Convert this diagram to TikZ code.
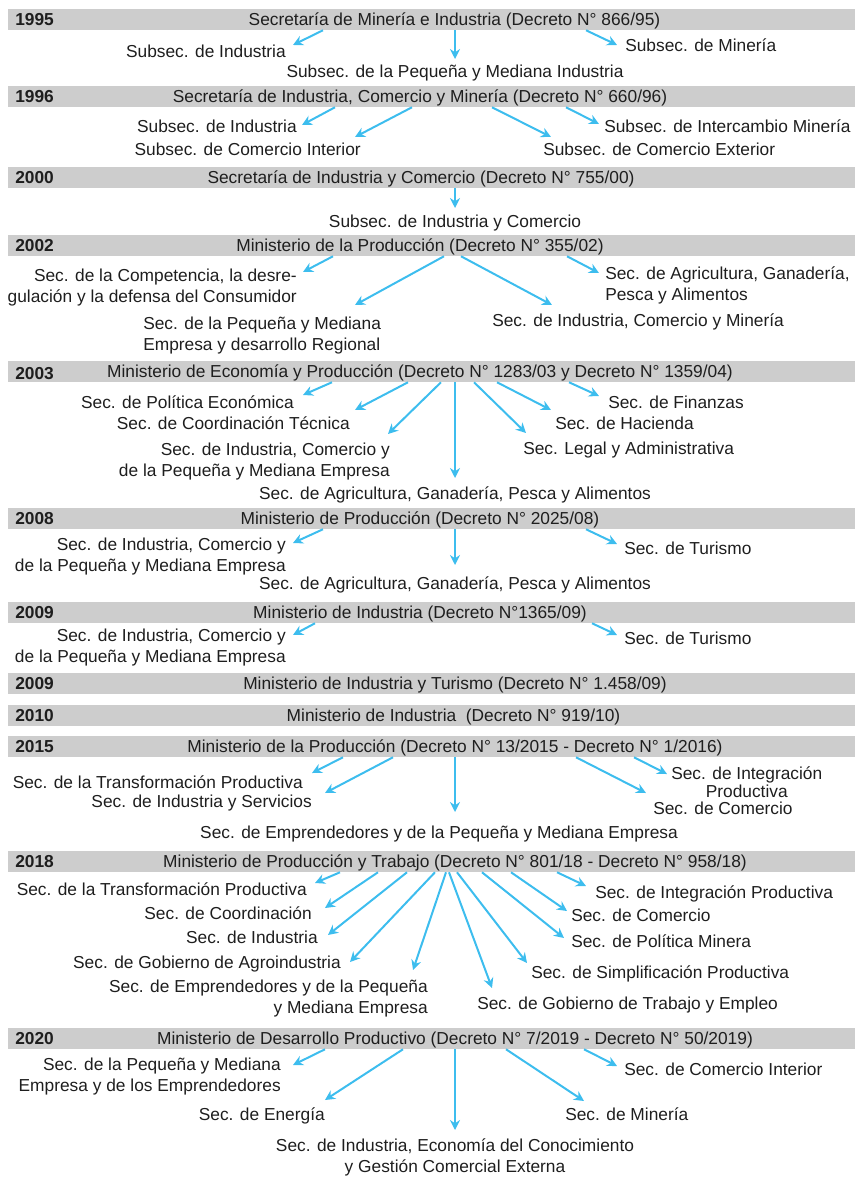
\documentclass[tikz,border=0pt]{standalone}
\usepackage{fontspec}
\setmainfont{Liberation Sans}
\usetikzlibrary{arrows.meta}

\definecolor{bargray}{HTML}{CDCDCD}
\definecolor{arrowblue}{HTML}{3DBDEE}
\definecolor{textdark}{HTML}{1E1E1E}

\tikzset{
  bar/.style={fill=bargray, minimum width=635.25pt, minimum height=15.75pt, inner sep=0pt},
  year/.style={anchor=base west, font=\fontsize{13}{15.5}\selectfont\bfseries, inner sep=0pt},
  ttl/.style={anchor=base, inner sep=0pt},
  lbl/.style={inner sep=0pt},
  arr/.style={draw=arrowblue, line width=1.5pt, -{Stealth[length=7.5pt,width=7.5pt,inset=2.5pt]}}
}

\begin{document}
\begin{tikzpicture}[x=0.75pt, y=-0.75pt, font=\fontsize{13}{15.5}\selectfont, text=textdark]
        \useasboundingbox (0,0) rectangle (859,1177);

        % 1995
        \node[bar] (b95) at (431.5,19.5) {};
        \node[year] (y95) at (15,25.5) {1995};
        \node[ttl] (t95) at (454.5,25.5) {Secretaría de Minería e Industria (Decreto N° 866/95)};
        \node[lbl, anchor=base east] (l95a) at (286,58) {Subsec. de Industria};
        \node[lbl, anchor=base] (l95b) at (455,78) {Subsec. de la Pequeña y Mediana Industria};
        \node[lbl, anchor=base west] (l95c) at (625,52) {Subsec. de Minería};
        \draw[arr] (b95.south -| 323,0) -- ([shift={(7,-13)}]l95a.base east);
        \draw[arr] (b95.south -| 455,0) -- ([shift={(0,-19)}]l95b.base);
        \draw[arr] (b95.south -| 586,0) -- ([shift={(-8,-7)}]l95c.base west);

        % 1996
        \node[bar] (b96) at (431.5,96.5) {};
        \node[year] (y96) at (15,102.5) {1996};
        \node[ttl] (t96) at (420,102.5) {Secretaría de Industria, Comercio y Minería (Decreto N° 660/96)};
        \node[lbl, anchor=base east] (l96a) at (297,133) {Subsec. de Industria};
        \node[lbl, anchor=base east] (l96b) at (361,156) {Subsec. de Comercio Interior};
        \node[lbl, anchor=base west] (l96c) at (543,156) {Subsec. de Comercio Exterior};
        \node[lbl, anchor=base west] (l96d) at (604,133) {Subsec. de Intercambio Minería};
        \draw[arr] (b96.south -| 335,0) -- ([shift={(5,-8)}]l96a.base east);
        \draw[arr] (b96.south -| 412,0) -- ([shift={(-6,-19)}]l96b.base east);
        \draw[arr] (b96.south -| 492,0) -- ([shift={(8,-19)}]l96c.base west);
        \draw[arr] (b96.south -| 566,0) -- ([shift={(-5,-9)}]l96d.base west);

        % 2000
        \node[bar] (b00) at (431.5,177.5) {};
        \node[year] (y00) at (15,183.5) {2000};
        \node[ttl] (t00) at (421,183.5) {Secretaría de Industria y Comercio (Decreto N° 755/00)};
        \node[lbl, anchor=base] (l00) at (455,227) {Subsec. de Industria y Comercio};
        \draw[arr] (b00.south -| 455,0) -- ([shift={(0,-19)}]l00.base);

        % 2002
        \node[bar] (b02) at (431.5,245.5) {};
        \node[year] (y02) at (15,251.5) {2002};
        \node[ttl] (t02) at (420,251.5) {Ministerio de la Producción (Decreto N° 355/02)};
        \node[lbl, anchor=base east, align=right] (l02a) at (297,302) {Sec. de la Competencia, la desre-\\gulación y la defensa del Consumidor};
        \node[lbl, anchor=base west, align=left] (l02b) at (143,350) {Sec. de la Pequeña y Mediana\\Empresa y desarrollo Regional};
        \node[lbl, anchor=base west] (l02c) at (492,326) {Sec. de Industria, Comercio y Minería};
        \node[lbl, anchor=base west, align=left] (l02d) at (605,300) {Sec. de Agricultura, Ganadería,\\Pesca y Alimentos};
        \draw[arr] (b02.south -| 333,0) -- ([shift={(6,-30)}]l02a.base east);
        \draw[arr] (b02.south -| 444,0) -- ([shift={(212,-45)}]l02b.base west);
        \draw[arr] (b02.south -| 461,0) -- ([shift={(60,-21)}]l02c.base west);
        \draw[arr] (b02.south -| 567,0) -- ([shift={(-6,-27)}]l02d.base west);

        % 2003
        \node[bar] (b03) at (431.5,371.5) {};
        \node[year] (y03) at (15,379) {2003};
        \node[ttl] (t03) at (420,377.5) {Ministerio de Economía y Producción (Decreto N° 1283/03 y Decreto N° 1359/04)};
        \node[lbl, anchor=base east] (l03a) at (294,408) {Sec. de Política Económica};
        \node[lbl, anchor=base east] (l03b) at (350,429) {Sec. de Coordinación Técnica};
        \node[lbl, anchor=base east, align=right] (l03c) at (390,476) {Sec. de Industria, Comercio y\\de la Pequeña y Mediana Empresa};
        \node[lbl, anchor=base] (l03d) at (455,499) {Sec. de Agricultura, Ganadería, Pesca y Alimentos};
        \node[lbl, anchor=base west] (l03e) at (523,454) {Sec. Legal y Administrativa};
        \node[lbl, anchor=base west] (l03f) at (555,429) {Sec. de Hacienda};
        \node[lbl, anchor=base west] (l03g) at (608,408) {Sec. de Finanzas};
        \draw[arr] (b03.south -| 332,0) -- ([shift={(9,-13)}]l03a.base east);
        \draw[arr] (b03.south -| 408,0) -- ([shift={(5,-19)}]l03b.base east);
        \draw[arr] (b03.south -| 441,0) -- ([shift={(-2,-42)}]l03c.base east);
        \draw[arr] (b03.south -| 455,0) -- ([shift={(0,-21)}]l03d.base);
        \draw[arr] (b03.south -| 474,0) -- ([shift={(3,-21)}]l03e.base west);
        \draw[arr] (b03.south -| 497,0) -- ([shift={(-4,-19)}]l03f.base west);
        \draw[arr] (b03.south -| 569,0) -- ([shift={(-9,-12)}]l03g.base west);

        % 2008
        \node[bar] (b08) at (431.5,518.5) {};
        \node[year] (y08) at (15,524.5) {2008};
        \node[ttl] (t08) at (420,524.5) {Ministerio de Producción (Decreto N° 2025/08)};
        \node[lbl, anchor=base east, align=right] (l08a) at (286,571) {Sec. de Industria, Comercio y\\de la Pequeña y Mediana Empresa};
        \node[lbl, anchor=base] (l08b) at (455,589) {Sec. de Agricultura, Ganadería, Pesca y Alimentos};
        \node[lbl, anchor=base west] (l08c) at (624,554) {Sec. de Turismo};
        \draw[arr] (b08.south -| 323,0) -- ([shift={(7,-28)}]l08a.base east);
        \draw[arr] (b08.south -| 455,0) -- ([shift={(0,-24)}]l08b.base);
        \draw[arr] (b08.south -| 586,0) -- ([shift={(-7,-10)}]l08c.base west);

        % 2009
        \node[bar] (b09) at (431.5,612.5) {};
        \node[year] (y09) at (15,618.5) {2009};
        \node[ttl] (t09) at (420,618.5) {Ministerio de Industria (Decreto N°1365/09)};
        \node[lbl, anchor=base east, align=right] (l09a) at (286,662) {Sec. de Industria, Comercio y\\de la Pequeña y Mediana Empresa};
        \node[lbl, anchor=base west] (l09b) at (624,644) {Sec. de Turismo};
        \draw[arr] (b09.south -| 315,0) -- ([shift={(7,-27)}]l09a.base east);
        \draw[arr] (b09.south -| 592,0) -- ([shift={(-7,-9)}]l09b.base west);

        % 2009 (bis) and 2010
        \node[bar] (b09b) at (431.5,683.5) {};
        \node[year] (y09b) at (15,689.5) {2009};
        \node[ttl] (t09b) at (455,689.5) {Ministerio de Industria y Turismo (Decreto N° 1.458/09)};
        \node[bar] (b10) at (431.5,715.5) {};
        \node[year] (y10) at (15,721.5) {2010};
        \node[ttl] (t10) at (453.5,721.5) {Ministerio de Industria\ \ (Decreto N° 919/10)};

        % 2015
        \node[bar] (b15) at (431.5,746.5) {};
        \node[year] (y15) at (15,752.5) {2015};
        \node[ttl] (t15) at (455,752.5) {Ministerio de la Producción (Decreto N° 13/2015 - Decreto N° 1/2016)};
        \node[lbl, anchor=base east] (l15a) at (303,788) {Sec. de la Transformación Productiva};
        \node[lbl, anchor=base east] (l15b) at (312,807) {Sec. de Industria y Servicios};
        \node[lbl, anchor=base] (l15c) at (439,838) {Sec. de Emprendedores y de la Pequeña y Mediana Empresa};
        \node[lbl, anchor=base west] (l15d) at (653,814) {Sec. de Comercio};
        \node[lbl, anchor=base west, align=center, font=\fontsize{13}{12}\selectfont] (l15e) at (671,797) {Sec. de Integración\\Productiva};
        \draw[arr] (b15.south -| 343,0) -- ([shift={(9,-15)}]l15a.base east);
        \draw[arr] (b15.south -| 393,0) -- ([shift={(13,-14)}]l15b.base east);
        \draw[arr] (b15.south -| 455,0) -- ([shift={(16,-26)}]l15c.base);
        \draw[arr] (b15.south -| 576,0) -- ([shift={(-7,-21)}]l15d.base west);
        \draw[arr] (b15.south -| 634,0) -- ([shift={(-4,-23)}]l15e.base west);

        % 2018
        \node[bar] (b18) at (431.5,861.5) {};
        \node[year] (y18) at (15,867.5) {2018};
        \node[ttl] (t18) at (455,867.5) {Ministerio de Producción y Trabajo (Decreto N° 801/18 - Decreto N° 958/18)};
        \node[lbl, anchor=base east] (l18a) at (307,895) {Sec. de la Transformación Productiva};
        \node[lbl, anchor=base east] (l18b) at (312,919) {Sec. de Coordinación};
        \node[lbl, anchor=base east] (l18c) at (318,943) {Sec. de Industria};
        \node[lbl, anchor=base east] (l18d) at (341,968) {Sec. de Gobierno de Agroindustria};
        \node[lbl, anchor=base east, align=right] (l18e) at (428,1013) {Sec. de Emprendedores y de la Pequeña\\y Mediana Empresa};
        \node[lbl, anchor=base west] (l18f) at (477,1009) {Sec. de Gobierno de Trabajo y Empleo};
        \node[lbl, anchor=base west] (l18g) at (531,978) {Sec. de Simplificación Productiva};
        \node[lbl, anchor=base west] (l18h) at (571,947) {Sec. de Política Minera};
        \node[lbl, anchor=base west] (l18i) at (571,921) {Sec. de Comercio};
        \node[lbl, anchor=base west] (l18j) at (595,898) {Sec. de Integración Productiva};
        \draw[arr] (b18.south -| 340,0) -- ([shift={(8,-12)}]l18a.base east);
        \draw[arr] (b18.south -| 378,0) -- ([shift={(13,-11)}]l18b.base east);
        \draw[arr] (b18.south -| 407,0) -- ([shift={(10,-8)}]l18c.base east);
        \draw[arr] (b18.south -| 435,0) -- ([shift={(9,-6)}]l18d.base east);
        \draw[arr] (b18.south -| 446,0) -- ([shift={(-15,-43)}]l18e.base east);
        \draw[arr] (b18.south -| 449,0) -- ([shift={(15,-21)}]l18f.base west);
        \draw[arr] (b18.south -| 457,0) -- ([shift={(-4,-15)}]l18g.base west);
        \draw[arr] (b18.south -| 482,0) -- ([shift={(-7,-9)}]l18h.base west);
        \draw[arr] (b18.south -| 511,0) -- ([shift={(-4,-10)}]l18i.base west);
        \draw[arr] (b18.south -| 557,0) -- ([shift={(-9,-12)}]l18j.base west);

        % 2020
        \node[bar] (b20) at (431.5,1038.5) {};
        \node[year] (y20) at (15,1044.5) {2020};
        \node[ttl] (t20) at (455,1044.5) {Ministerio de Desarrollo Productivo (Decreto N° 7/2019 - Decreto N° 50/2019)};
        \node[lbl, anchor=base east, align=right] (l20a) at (281,1091) {Sec. de la Pequeña y Mediana\\Empresa y de los Emprendedores};
        \node[lbl, anchor=base east] (l20b) at (325,1120) {Sec. de Energía};
        \node[lbl, anchor=base, align=center] (l20c) at (455,1172) {Sec. de Industria, Economía del Conocimiento\\y Gestión Comercial Externa};
        \node[lbl, anchor=base west] (l20d) at (565,1120) {Sec. de Minería};
        \node[lbl, anchor=base west] (l20e) at (624,1075) {Sec. de Comercio Interior};
        \draw[arr] (b20.south -| 325,0) -- ([shift={(12,-26)}]l20a.base east);
        \draw[arr] (b20.south -| 403,0) -- ([shift={(0,-20)}]l20b.base east);
        \draw[arr] (b20.south -| 455,0) -- ([shift={(0,-42)}]l20c.base);
        \draw[arr] (b20.south -| 506,0) -- ([shift={(19,-19)}]l20d.base west);
        \draw[arr] (b20.south -| 584,0) -- ([shift={(-7,-9)}]l20e.base west);
\end{tikzpicture}
\end{document}
